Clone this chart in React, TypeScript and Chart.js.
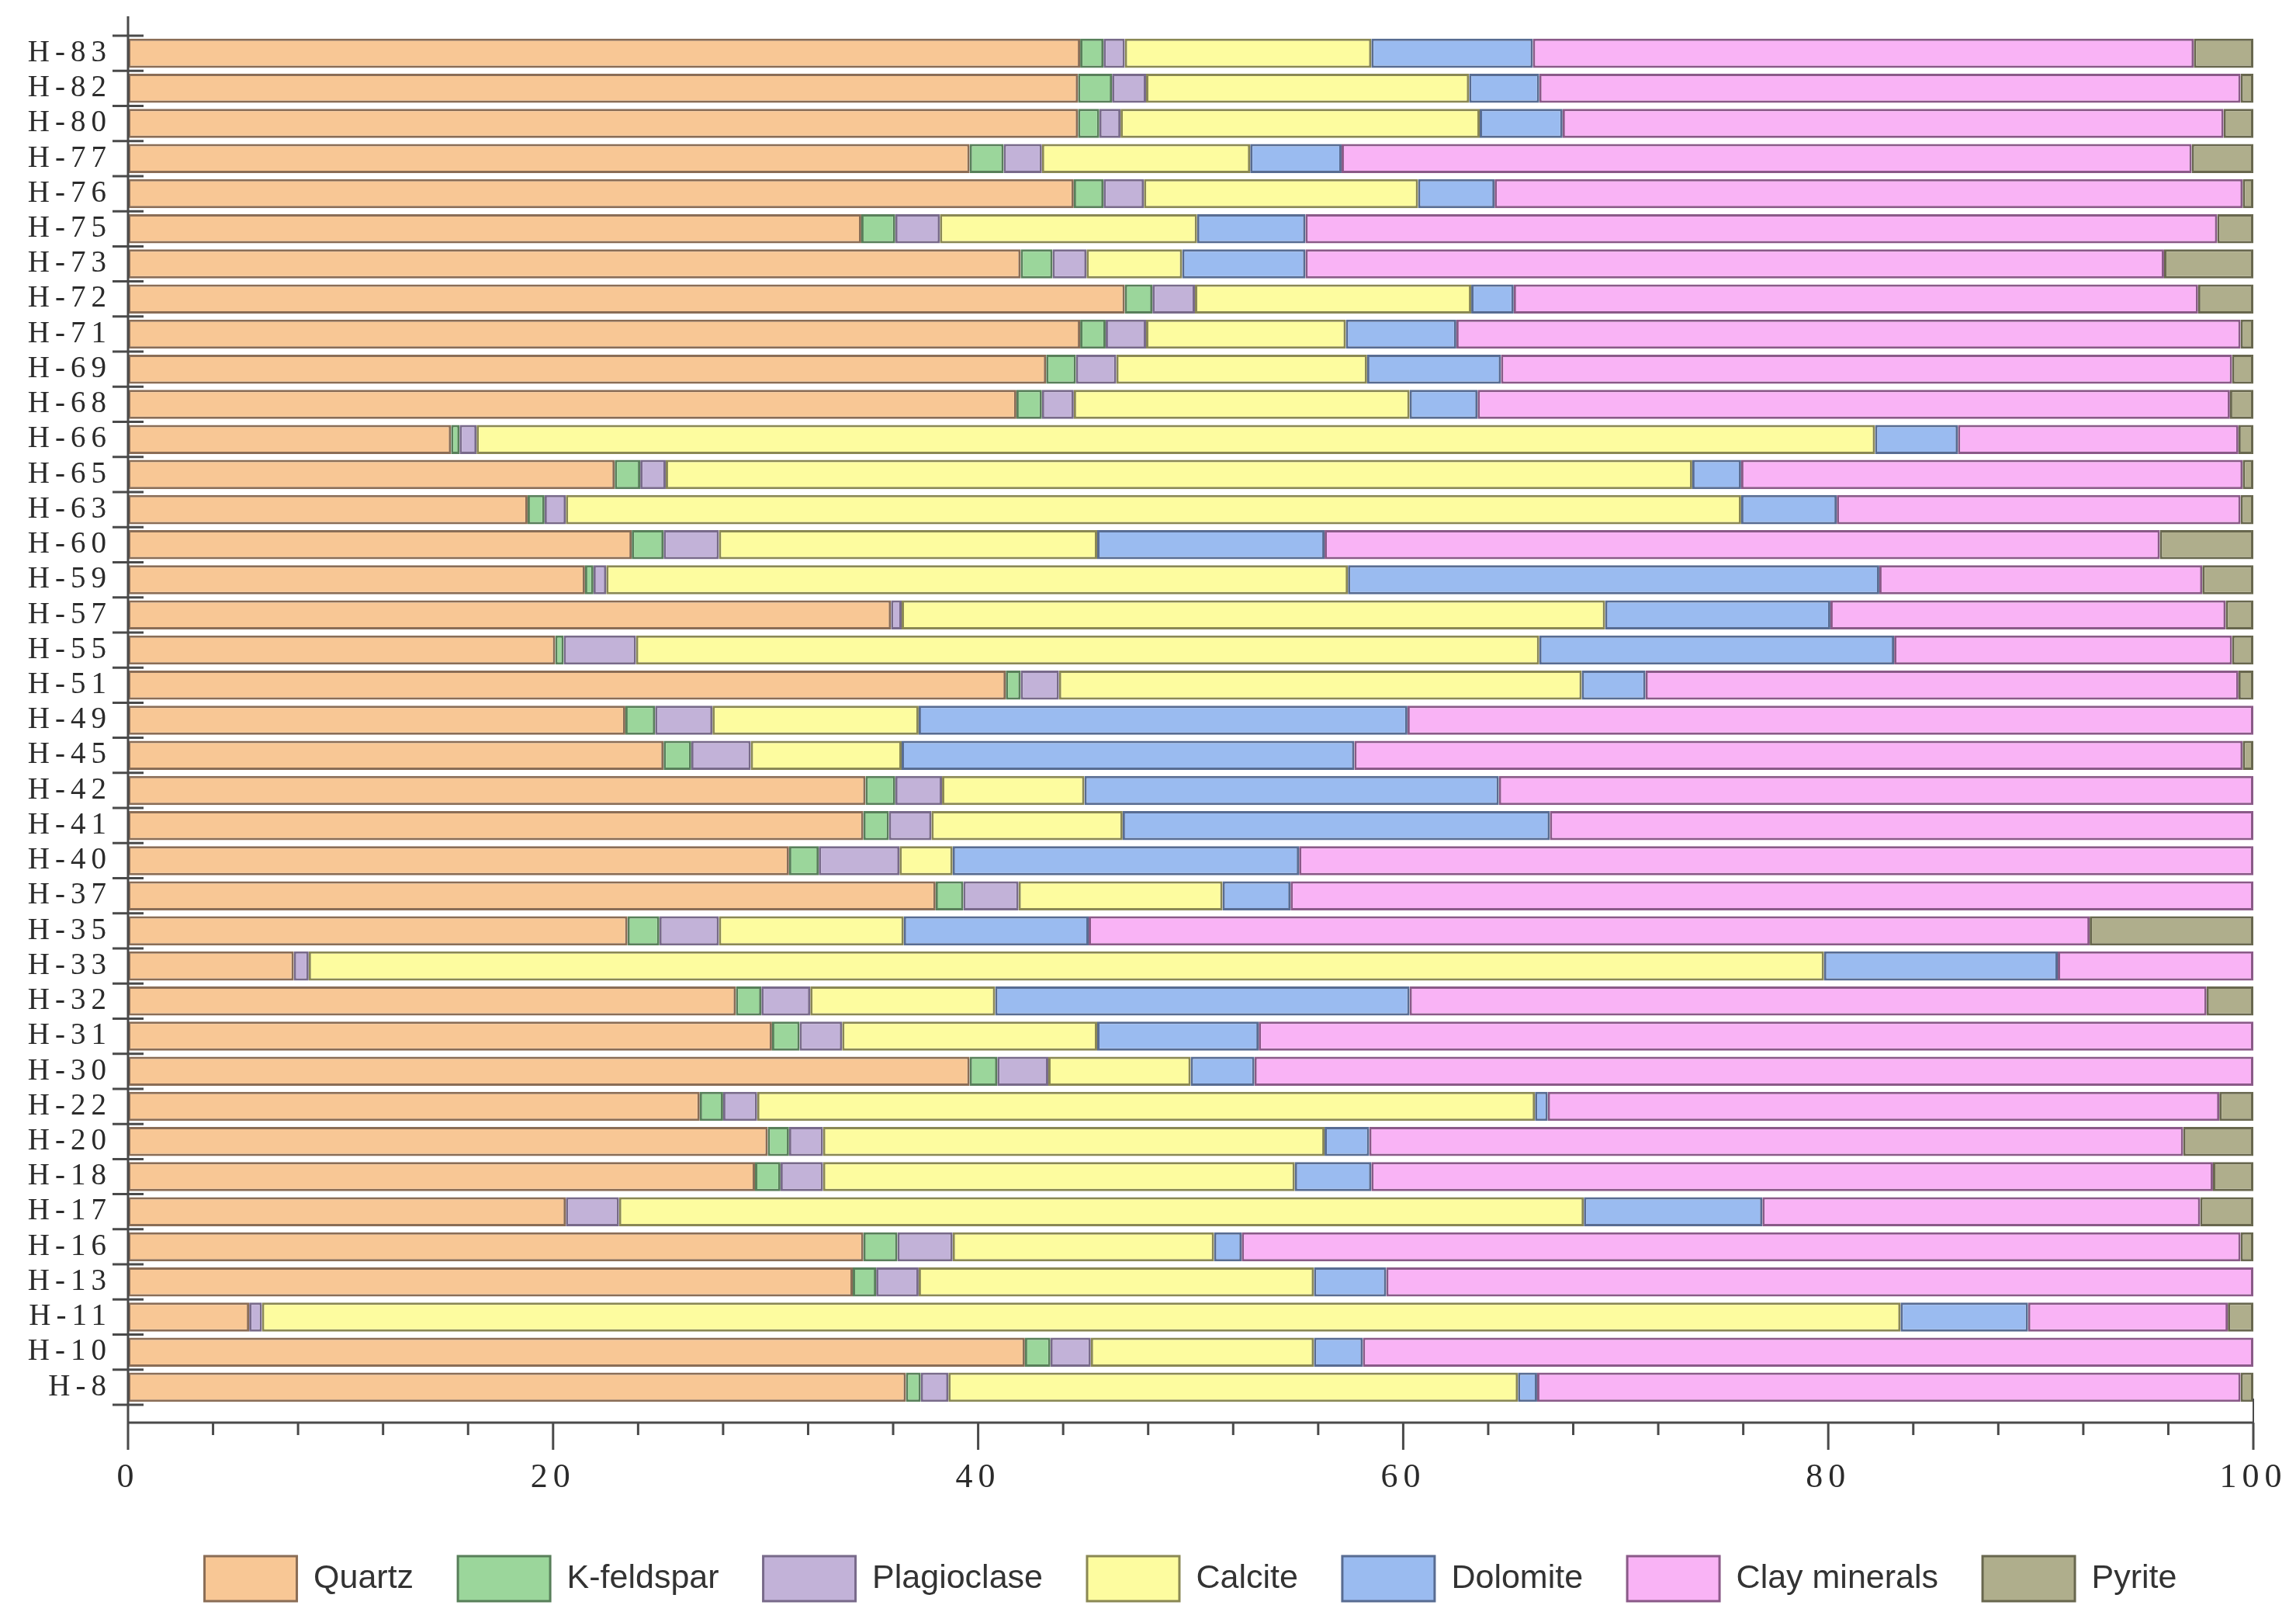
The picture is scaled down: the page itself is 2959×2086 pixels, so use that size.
import { useEffect, useRef } from 'react';
import { Chart, registerables } from 'chart.js';

Chart.register(...registerables);

// samples, top to bottom
const samples = [
    'H-83', 'H-82', 'H-80', 'H-77', 'H-76', 'H-75', 'H-73', 'H-72', 'H-71', 'H-69',
    'H-68', 'H-66', 'H-65', 'H-63', 'H-60', 'H-59', 'H-57', 'H-55', 'H-51', 'H-49',
    'H-45', 'H-42', 'H-41', 'H-40', 'H-37', 'H-35', 'H-33', 'H-32', 'H-31', 'H-30',
    'H-22', 'H-20', 'H-18', 'H-17', 'H-16', 'H-13', 'H-11', 'H-10', 'H-8'
];

// mineral contents (%)
const quartz = [
    44.8, 44.7, 44.7, 39.6, 44.5, 34.5, 42.0, 46.9, 44.8, 43.2,
    41.8, 15.2, 22.9, 18.8, 23.7, 21.5, 35.9, 20.1, 41.3, 23.4,
    25.2, 34.7, 34.6, 31.1, 38.0, 23.5, 7.8, 28.6, 30.3, 39.6,
    26.9, 30.1, 29.5, 20.6, 34.6, 34.1, 5.7, 42.2, 36.6
];
const kFeldspar = [
    1.1, 1.6, 1.0, 1.6, 1.4, 1.6, 1.5, 1.3, 1.2, 1.4,
    1.2, 0.4, 1.2, 0.8, 1.5, 0.4, 0, 0.4, 0.7, 1.4,
    1.3, 1.4, 1.2, 1.4, 1.3, 1.5, 0, 1.2, 1.3, 1.3,
    1.1, 1.0, 1.2, 0, 1.6, 1.1, 0, 1.2, 0.7
];
const plagioclase = [
    1.0, 1.6, 1.0, 1.8, 1.9, 2.1, 1.6, 2.0, 1.9, 1.9,
    1.5, 0.8, 1.2, 1.0, 2.6, 0.6, 0.5, 3.4, 1.8, 2.7,
    2.8, 2.2, 2.0, 3.8, 2.6, 2.8, 0.7, 2.3, 2.0, 2.4,
    1.6, 1.6, 2.0, 2.5, 2.6, 2.0, 0.6, 1.9, 1.3
];
const calcite = [
    11.6, 15.2, 16.9, 9.8, 12.9, 12.1, 4.5, 13.0, 9.4, 11.8,
    15.8, 65.8, 48.3, 55.3, 17.8, 34.9, 33.1, 42.5, 24.6, 9.7,
    7.1, 6.7, 9.0, 2.5, 9.6, 8.7, 71.3, 8.7, 12.0, 6.7,
    36.6, 23.6, 22.2, 45.4, 12.3, 18.6, 77.1, 10.5, 26.8
];
const dolomite = [
    7.6, 3.3, 3.9, 4.3, 3.6, 5.1, 5.8, 2.0, 5.2, 6.3,
    3.2, 3.9, 2.3, 4.5, 10.7, 25.0, 10.6, 16.7, 3.0, 23.0,
    21.3, 19.5, 20.1, 16.3, 3.2, 8.7, 11.0, 19.5, 7.6, 3.0,
    0.6, 2.1, 3.6, 8.4, 1.3, 3.4, 6.0, 2.3, 0.9
];
const clayMinerals = [
    31.1, 33.0, 31.1, 40.0, 35.2, 42.9, 40.4, 32.2, 36.9, 34.4,
    35.4, 13.2, 23.6, 19.0, 39.3, 15.2, 18.6, 15.9, 27.9, 39.8,
    41.8, 35.5, 33.1, 44.9, 45.3, 47.1, 9.2, 37.5, 46.8, 47.0,
    31.6, 38.3, 39.6, 20.6, 47.0, 40.8, 9.4, 41.9, 33.1
];
const pyrite = [
    2.8, 0.6, 1.4, 2.9, 0.5, 1.7, 4.2, 2.6, 0.6, 1.0,
    1.1, 0.7, 0.5, 0.6, 4.4, 2.4, 1.3, 1.0, 0.7, 0,
    0.5, 0, 0, 0, 0, 7.7, 0, 2.2, 0, 0,
    1.6, 3.3, 1.9, 2.5, 0.6, 0, 1.2, 0, 0.6
];

const series = [
    { label: 'Quartz', data: quartz, fill: '#f8c795', edge: '#8a6d56' },
    { label: 'K-feldspar', data: kFeldspar, fill: '#9bd69b', edge: '#587f5a' },
    { label: 'Plagioclase', data: plagioclase, fill: '#c2b2d8', edge: '#786a8a' },
    { label: 'Calcite', data: calcite, fill: '#fdfc9f', edge: '#8a8854' },
    { label: 'Dolomite', data: dolomite, fill: '#9abbf0', edge: '#586c92' },
    { label: 'Clay minerals', data: clayMinerals, fill: '#f9b3f5', edge: '#8a5a88' },
    { label: 'Pyrite', data: pyrite, fill: '#afae8c', edge: '#68674e' }
];

const W = 2959;
const H = 2086;

// axis lines and tick marks drawn off the chart's own scales
const axisPlugin = {
    id: 'axisLines',
    beforeDatasetsDraw(chart: any) {
        chart.ctx.letterSpacing = '7px';
    },
    afterDraw(chart: any) {
        const { ctx, chartArea, scales } = chart;
        const x = scales.x;
        const y = scales.y;
        const axisY = chartArea.bottom + 23;
        ctx.save();
        ctx.letterSpacing = '0px';
        ctx.strokeStyle = '#4a4a4a';
        ctx.lineWidth = 3;
        ctx.beginPath();
        ctx.moveTo(chartArea.left, chartArea.top - 25);
        ctx.lineTo(chartArea.left, axisY);
        for (let i = 0; i <= samples.length; i++) {
            const py = y.getPixelForValue(i - 0.5);
            ctx.moveTo(chartArea.left - 20, py);
            ctx.lineTo(chartArea.left + 20, py);
        }
        ctx.moveTo(chartArea.left, axisY);
        ctx.lineTo(chartArea.right, axisY);
        x.ticks.forEach((t: any) => {
            const px = x.getPixelForValue(t.value);
            const len = t.value % 20 === 0 ? 35 : 16;
            ctx.moveTo(px, axisY);
            ctx.lineTo(px, axisY + len);
        });
        ctx.stroke();
        ctx.beginPath();
        ctx.lineWidth = 2;
        ctx.moveTo(chartArea.right, chartArea.bottom - 8);
        ctx.lineTo(chartArea.right, axisY);
        ctx.stroke();
        ctx.restore();
        ctx.letterSpacing = '0px';
    }
};

export default function App() {
    const canvasRef = useRef<HTMLCanvasElement>(null);
    const chartRef = useRef<Chart | null>(null);

    useEffect(() => {
        if (!canvasRef.current) return;
        if (chartRef.current) {
            chartRef.current.destroy();
        }
        const ctx = canvasRef.current.getContext('2d');
        if (!ctx) return;

        chartRef.current = new Chart(ctx, {
            type: 'bar',
            data: {
                labels: samples,
                datasets: series.map((s) => ({
                    label: s.label,
                    data: s.data,
                    backgroundColor: s.fill,
                    borderColor: s.edge,
                    borderWidth: 3,
                    borderSkipped: false,
                    barPercentage: 0.83,
                    categoryPercentage: 1.0
                }))
            },
            options: {
                indexAxis: 'y',
                responsive: false,
                animation: false,
                devicePixelRatio: 1,
                layout: {
                    padding: { top: 46, right: 55, bottom: 13, left: 0 }
                },
                plugins: {
                    legend: {
                        position: 'bottom',
                        fullSize: false,
                        labels: {
                            boxWidth: 119,
                            boxHeight: 58,
                            padding: 57,
                            color: '#333333',
                            font: { family: 'Liberation Sans', size: 43 }
                        }
                    },
                    tooltip: { enabled: false }
                },
                scales: {
                    x: {
                        stacked: true,
                        min: 0,
                        max: 100,
                        grid: { display: false, drawTicks: false, tickLength: 0 },
                        border: { display: false },
                        afterFit: (scale: any) => {
                            scale.height = 138;
                            scale.paddingLeft = 0;
                            scale.paddingRight = 0;
                        },
                        ticks: {
                            z: 1,
                            stepSize: 4,
                            autoSkip: false,
                            maxRotation: 0,
                            padding: 68,
                            color: '#2b2b2b',
                            font: { family: 'Liberation Serif', size: 44 },
                            callback: (v: any) => (Number(v) % 20 === 0 ? String(v) : '')
                        }
                    },
                    y: {
                        stacked: true,
                        grid: { display: false, drawTicks: false, tickLength: 0 },
                        border: { display: false },
                        afterFit: (scale: any) => {
                            scale.width = 165;
                        },
                        ticks: {
                            z: 1,
                            autoSkip: false,
                            padding: 21,
                            color: '#2b2b2b',
                            font: { family: 'Liberation Serif', size: 39 }
                        }
                    }
                }
            },
            plugins: [axisPlugin]
        });

        return () => {
            if (chartRef.current) {
                chartRef.current.destroy();
                chartRef.current = null;
            }
        };
    }, []);

    return (
        <div style={{ position: 'absolute', left: 0, top: 0, width: W, height: H, background: '#ffffff' }}>
            <canvas ref={canvasRef} width={W} height={H} style={{ width: `${W}px`, height: `${H}px` }} />
        </div>
    );
}
